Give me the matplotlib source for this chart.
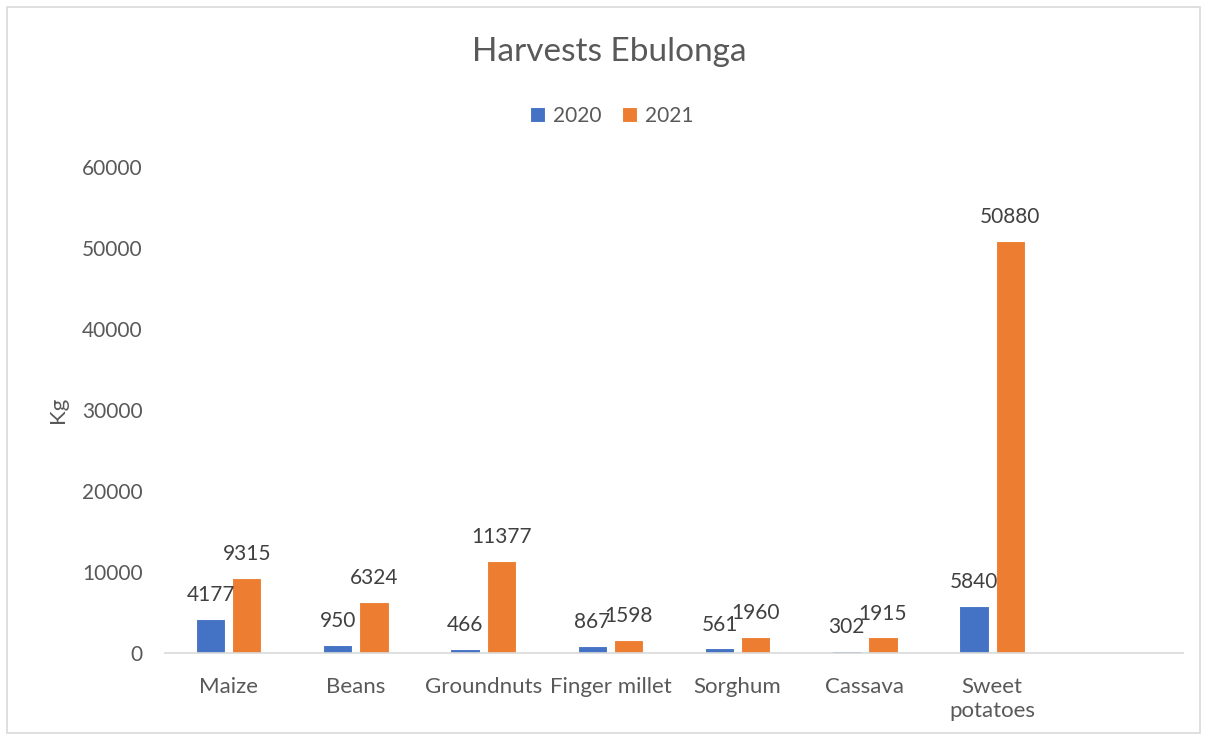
import matplotlib
matplotlib.use("Agg")
import matplotlib.pyplot as plt
import numpy as np
from matplotlib.patches import Rectangle

categories = ["Maize", "Beans", "Groundnuts", "Finger millet", "Sorghum", "Cassava", "Sweet\npotatoes", ""]
values_2020 = [4177, 950, 466, 867, 561, 302, 5840]
values_2021 = [9315, 6324, 11377, 1598, 1960, 1915, 50880]
series_names = ["2020", "2021"]
yticks = [0, 10000, 20000, 30000, 40000, 50000, 60000]

plt.rcParams['font.family'] = ['Lato', 'DejaVu Sans']
txt = "#595959"
blue = "#4472C4"
orange = "#ED7D31"

fig = plt.figure(figsize=(12.06, 7.38), dpi=100)
fig.patches.append(Rectangle((7/1206, 5/738), 1193/1206, 726/738, transform=fig.transFigure,
                             fill=False, edgecolor="#D9D9D9", linewidth=1.2))
ax = fig.add_axes([165/1206, 1 - 653/738, 1018/1206, 486/738])

x = np.arange(len(categories))
w = 0.23
off = 0.142
n = len(values_2020)
b1 = ax.bar(x[:n] - off, values_2020, w, color=blue, edgecolor="white", linewidth=0.8, label=series_names[0])
b2 = ax.bar(x[:n] + off, values_2021, w, color=orange, edgecolor="white", linewidth=0.8, label=series_names[1])

for bars, vals in ((b1, values_2020), (b2, values_2021)):
    for r, v in zip(bars, vals):
        ax.annotate(str(v), (r.get_x() + r.get_width() / 2, v), xytext=(0, 10), textcoords="offset points",
                    ha="center", va="bottom", fontsize=15, color="#404040")

ax.set_xlim(-0.5, len(categories) - 0.5)
ax.set_ylim(0, 60000)
ax.set_yticks(yticks)
ax.set_yticklabels([str(t) for t in yticks], fontsize=15, color=txt)
ax.set_xticks(x)
ax.set_xticklabels(categories, fontsize=16, color=txt, linespacing=1.25, va="top")
ax.tick_params(axis="both", length=0)
ax.tick_params(axis="x", pad=17)
ax.tick_params(axis="y", pad=16)
for s in ("top", "right", "left"):
    ax.spines[s].set_visible(False)
ax.spines["bottom"].set_color("#D9D9D9")
ax.spines["bottom"].set_linewidth(1.2)

ax.set_ylabel("Kg", fontsize=16, color=txt, labelpad=10)
fig.text(609/1206, 1 - 52/738, "Harvests Ebulonga", ha="center", va="center", fontsize=24, color=txt)
leg = fig.legend(handles=[b1, b2], loc="center", bbox_to_anchor=(612/1206, 1 - 116/738), ncol=2,
                 frameon=False, fontsize=15, handlelength=0.7, handleheight=0.7, handletextpad=0.4,
                 columnspacing=1.0)
for t in leg.get_texts():
    t.set_color(txt)

fig.savefig("out.png", dpi=100)
